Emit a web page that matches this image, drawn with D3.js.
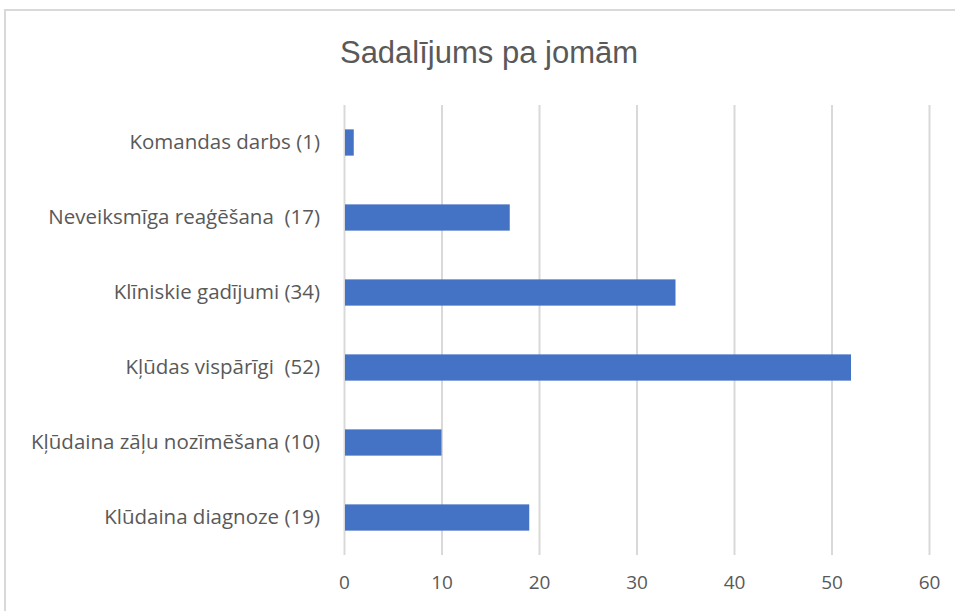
<!DOCTYPE html>
<html><head><meta charset="utf-8">
<script src="https://cdn.jsdelivr.net/npm/d3@7"></script>
<style>body{margin:0;background:#fff}svg{display:block}</style>
</head><body>
<script>
const categories = ["Komandas darbs (1)","Neveiksmīga reaģēšana  (17)","Klīniskie gadījumi (34)","Kļūdas vispārīgi  (52)","Kļūdaina zāļu nozīmēšana (10)","Klūdaina diagnoze (19)"];
const values = [1,17,34,52,10,19];
const tickValues = [0,10,20,30,40,50,60];
const title = "Sadalījums pa jomām";

const W=955,H=611;
const svg=d3.select("body").append("svg").attr("width",W).attr("height",H);
svg.append("rect").attr("x",5).attr("y",10).attr("width",W+10).attr("height",H+10)
  .attr("fill","#fff").attr("stroke","#d9d9d9").attr("stroke-width",2);

const x=d3.scaleLinear().domain([0,60]).range([344,929]);
const y=d3.scaleBand().domain(categories).range([105,555]).paddingInner(0.65).paddingOuter(0.325);

svg.append("text").attr("x",489).attr("y",63).attr("text-anchor","middle")
  .attr("font-family","Liberation Sans Narrow, Arial Narrow, sans-serif").attr("font-size",31)
  .attr("fill","#595959").text(title);

const xAxis=d3.axisBottom(x).tickValues(tickValues).tickSize(-(555-105)).tickPadding(21);
const gx=svg.append("g").attr("transform","translate(0,555)").call(xAxis);
gx.select(".domain").remove();
gx.selectAll(".tick line").attr("stroke","#d9d9d9").attr("stroke-width",2);
gx.selectAll(".tick text").attr("fill","#595959").attr("font-size",19)
  .attr("font-family","Open Sans, sans-serif");

svg.append("g").selectAll("rect").data(values).join("rect")
  .attr("x",x(0)+1).attr("y",(d,i)=>y(categories[i]))
  .attr("width",d=>x(d)-x(0)-1).attr("height",y.bandwidth()).attr("fill","#4472c4");

const yAxis=d3.axisLeft(y).tickSize(0).tickPadding(24);
const gy=svg.append("g").attr("transform","translate(344,0)").call(yAxis);
gy.select(".domain").remove();
gy.selectAll(".tick text").attr("fill","#595959").attr("font-size",20.5)
  .attr("font-family","Open Sans, sans-serif").style("white-space","pre");
</script>
</body></html>
